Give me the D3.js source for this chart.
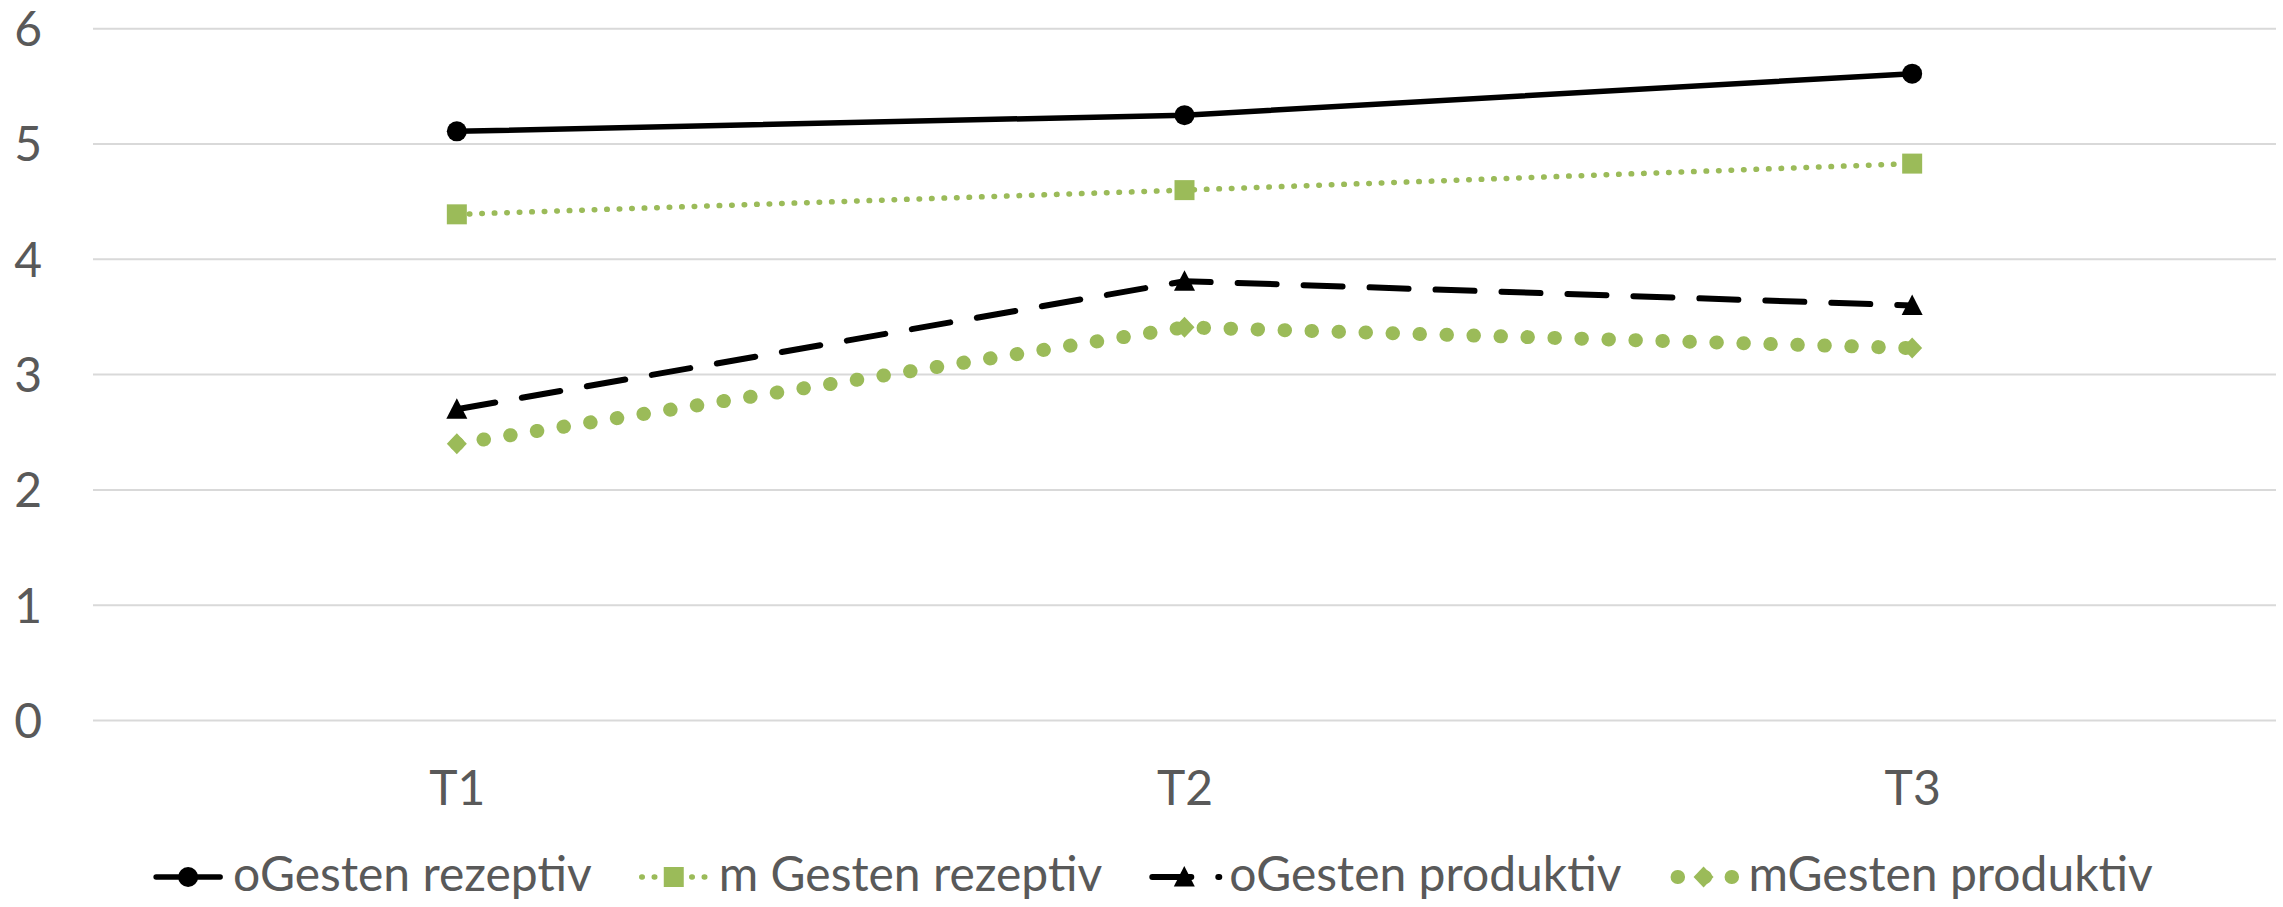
<!DOCTYPE html>
<html>
<head>
<meta charset="utf-8">
<script src="https://cdn.jsdelivr.net/npm/d3@7"></script>
<style>
  html, body { margin: 0; padding: 0; background: #ffffff; }
  svg { display: block; }
  text { font-family: Lato, "Open Sans", sans-serif; fill: #595959; }
</style>
</head>
<body>
<svg id="chart" width="2283" height="907"></svg>
<script>
// ---- data ----
const categories = ["T1", "T2", "T3"];
const yTicks = [0, 1, 2, 3, 4, 5, 6];
const seriesNames = ["oGesten rezeptiv", "m Gesten rezeptiv", "oGesten produktiv", "mGesten produktiv"];
const oGestenRezeptiv = [5.11, 5.25, 5.61];
const mGestenRezeptiv = [4.39, 4.60, 4.83];
const oGestenProduktiv = [2.70, 3.81, 3.60];
const mGestenProduktiv = [2.40, 3.41, 3.23];

// ---- styles ----
const GREEN = "#9BBB59";
const styles = [
  { color: "#000000", width: 5.5, dash: null, cap: "round", marker: "circle", lx1: 3, lx2: 67 },
  { color: GREEN, width: 5.5, dash: "0.5 12", cap: "round", marker: "square", lx1: 3, lx2: 67 },
  { color: "#000000", width: 6, dash: "39 27", cap: "round", marker: "triangle", lx1: 3, lx2: 70 },
  { color: GREEN, width: 14, dash: "0.5 26.5", cap: "round", marker: "diamond", lx1: 9, lx2: 64 }
];
const allValues = [oGestenRezeptiv, mGestenRezeptiv, oGestenProduktiv, mGestenProduktiv];

const svg = d3.select("#chart");
const plot = { left: 93, right: 2276, top: 28.7, bottom: 720.5 };

const x = d3.scalePoint().domain(categories).range([plot.left, plot.right]).padding(0.5);
const y = d3.scaleLinear().domain([0, 6]).range([plot.bottom, plot.top]);

// gridlines
svg.append("g").selectAll("line").data(yTicks).join("line")
  .attr("x1", plot.left).attr("x2", plot.right)
  .attr("y1", d => y(d)).attr("y2", d => y(d))
  .attr("stroke", "#d9d9d9").attr("stroke-width", 2);

// y axis labels
const yAxis = d3.axisLeft(y).tickValues(yTicks).tickSize(0).tickPadding(0).tickFormat(d3.format("d"));
const gy = svg.append("g").attr("transform", `translate(42,0)`).call(yAxis);
gy.select(".domain").remove();
gy.selectAll("text").attr("font-size", 48).attr("fill", "#595959")
  .style("font-family", 'Lato, "Open Sans", sans-serif').attr("dy", "0.35em");

// x axis labels
const xAxis = d3.axisBottom(x).tickSize(0).tickPadding(0);
const gx = svg.append("g").attr("transform", `translate(0,805)`).call(xAxis);
gx.select(".domain").remove();
gx.selectAll("text").attr("font-size", 48).attr("fill", "#595959")
  .style("font-family", 'Lato, "Open Sans", sans-serif').attr("dy", "0").attr("y", 0);

// marker path builder
function markerPath(type) {
  switch (type) {
    case "circle": return d3.symbol(d3.symbolCircle, Math.PI * 10 * 10)();
    case "square": return "M-10,-10H10V10H-10Z";
    case "triangle": return "M0,-11L10.5,9.5L-10.5,9.5Z";
    case "diamond": return "M0,-10.5L10,0L0,10.5L-10,0Z";
  }
}

const line = d3.line().x((d, i) => x(categories[i])).y(d => y(d));

allValues.forEach((vals, si) => {
  const st = styles[si];
  svg.append("path").datum(vals)
    .attr("d", line)
    .attr("fill", "none")
    .attr("stroke", st.color)
    .attr("stroke-width", st.width)
    .attr("stroke-linecap", st.cap)
    .attr("stroke-linejoin", "round")
    .attr("stroke-dasharray", st.dash);
});
allValues.forEach((vals, si) => {
  const st = styles[si];
  svg.append("g").selectAll("path").data(vals).join("path")
    .attr("d", markerPath(st.marker))
    .attr("transform", (d, i) => `translate(${x(categories[i])},${y(d)})`)
    .attr("fill", st.color);
});

// legend
const legend = svg.append("g");
const legendY = 877;
const symW = 70, textGap = 10, itemGap = 47;
const items = seriesNames.map((name, i) => {
  const g = legend.append("g");
  const st = styles[i];
  g.append("line").attr("x1", st.lx1).attr("x2", st.lx2)
    .attr("y1", legendY).attr("y2", legendY)
    .attr("stroke", st.color).attr("stroke-width", st.width)
    .attr("stroke-linecap", st.cap).attr("stroke-dasharray", st.dash);
  g.append("path").attr("d", markerPath(st.marker))
    .attr("transform", `translate(${symW / 2},${legendY})`).attr("fill", st.color);
  const t = g.append("text").attr("x", symW + textGap).attr("y", legendY + 14)
    .attr("font-size", 48).text(name);
  const w = symW + textGap + t.node().getComputedTextLength();
  return { g, w };
});
const total = d3.sum(items, d => d.w) + itemGap * (items.length - 1);
let cx = 1153 - total / 2;
items.forEach(it => {
  it.g.attr("transform", `translate(${cx},0)`);
  cx += it.w + itemGap;
});
</script>
</body>
</html>
